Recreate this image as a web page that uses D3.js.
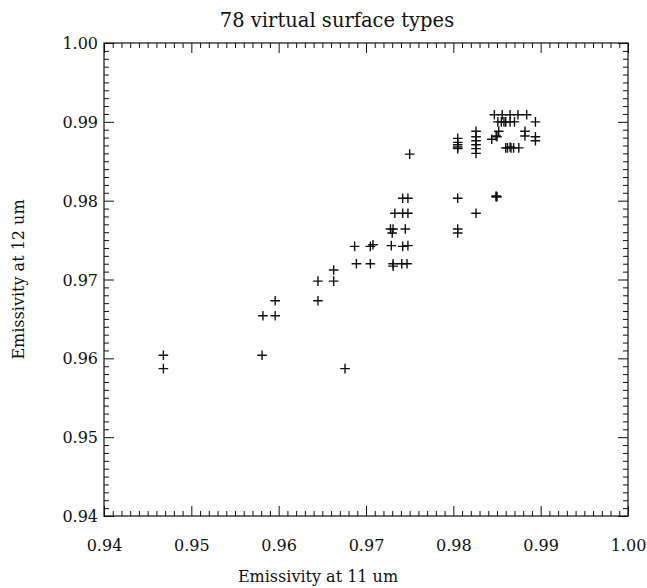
<!DOCTYPE html>
<html>
<head>
<meta charset="utf-8">
<script src="https://cdn.jsdelivr.net/npm/d3@7"></script>
<style>
  html, body { margin: 0; padding: 0; background: #fff; }
  svg { display: block; }
  text { font-family: "DejaVu Serif", "Liberation Serif", serif; fill: #111; }
</style>
</head>
<body>
<svg id="chart" width="647" height="588"></svg>
<script>
// Emissivity pairs for the surface types (11 um, 12 um)
const emis11 = [
  0.9468, 0.9468, 0.9581, 0.9676,
  0.9582, 0.9596, 0.9596, 0.9645, 0.9645, 0.9663, 0.9663,
  0.9689, 0.9705,
  0.9687, 0.9705, 0.9708, 0.9729, 0.9742, 0.9748,
  0.9731, 0.9731, 0.9741, 0.9747,
  0.9728, 0.9731, 0.9730, 0.9745, 0.9805, 0.9805,
  0.9733, 0.9742, 0.9748, 0.9826,
  0.9742, 0.9748, 0.9805,
  0.9750,
  0.9805, 0.9805, 0.9805, 0.9805, 0.9805,
  0.9826, 0.9826, 0.9826, 0.9826, 0.9826, 0.9826,
  0.9847, 0.9856, 0.9865, 0.9874, 0.9884,
  0.9851, 0.9855, 0.9860, 0.9865, 0.9870, 0.9894, 0.9858,
  0.9852, 0.9849, 0.9850, 0.9844, 0.9882, 0.9882, 0.9894, 0.9894,
  0.9860, 0.9862, 0.9866, 0.9869, 0.9875, 0.9865,
  0.9849, 0.9849, 0.9850
];
const emis12 = [
  0.9604, 0.9587, 0.9604, 0.9587,
  0.9654, 0.9654, 0.9673, 0.9673, 0.9698, 0.9698, 0.9712,
  0.9720, 0.9720,
  0.9742, 0.9742, 0.9744, 0.9743, 0.9742, 0.9743,
  0.9720, 0.9717, 0.9720, 0.9720,
  0.9764, 0.9764, 0.9759, 0.9764, 0.9764, 0.9759,
  0.9784, 0.9784, 0.9784, 0.9784,
  0.9803, 0.9803, 0.9803,
  0.9859,
  0.9879, 0.9874, 0.9871, 0.9868, 0.9866,
  0.9888, 0.9881, 0.9876, 0.9871, 0.9866, 0.9860,
  0.9909, 0.9909, 0.9909, 0.9909, 0.9909,
  0.9900, 0.9900, 0.9900, 0.9900, 0.9900, 0.9900, 0.9900,
  0.9888, 0.9882, 0.9881, 0.9878, 0.9888, 0.9882, 0.9881, 0.9876,
  0.9867, 0.9867, 0.9867, 0.9867, 0.9867, 0.9868,
  0.9805, 0.9806, 0.9805
];
const xTickLabels = ["0.94", "0.95", "0.96", "0.97", "0.98", "0.99", "1.00"];
const yTickLabels = ["0.94", "0.95", "0.96", "0.97", "0.98", "0.99", "1.00"];
const chartTitle = "78 virtual surface types";
const xTitle = "Emissivity at 11 um";
const yTitle = "Emissivity at 12 um";

const svg = d3.select("#chart");
const W = 647, H = 588;
const m = { left: 104, right: 19, top: 43, bottom: 72 };

svg.append("rect").attr("width", W).attr("height", H).attr("fill", "#fff");

const x = d3.scaleLinear().domain([0.94, 1.00]).range([m.left, W - m.right]);
const y = d3.scaleLinear().domain([0.94, 1.00]).range([H - m.bottom, m.top]);

const majors = xTickLabels.map(Number);
const minors = d3.range(0, 61).map(i => 0.94 + i * 0.001)
  .filter(v => Math.abs(Math.round(v * 100) - v * 100) > 1e-6);

const majLen = 10, minLen = 5;
const ink = "#111";

function drawAxis(axisGen, transform, ticks, len, labels) {
  const g = svg.append("g").attr("transform", transform)
    .call(axisGen.tickValues(ticks).tickSize(len).tickSizeOuter(0)
      .tickFormat(labels ? ((d, i) => labels[i]) : () => ""));
  g.select(".domain").remove();
  g.selectAll(".tick line").attr("stroke", ink).attr("stroke-width", 1);
  return g;
}

// bottom: labels + inward ticks (negative size points into the plot)
const gxb = drawAxis(d3.axisBottom(x), `translate(0,${y(0.94)})`, majors, -majLen, xTickLabels);
gxb.selectAll(".tick text").attr("y", 24).attr("font-size", 16);
drawAxis(d3.axisBottom(x), `translate(0,${y(0.94)})`, minors, -minLen, null);
// top
drawAxis(d3.axisTop(x), `translate(0,${y(1.00)})`, majors, -majLen, null);
drawAxis(d3.axisTop(x), `translate(0,${y(1.00)})`, minors, -minLen, null);
// left
const gyl = drawAxis(d3.axisLeft(y), `translate(${x(0.94)},0)`, majors, -majLen, yTickLabels);
gyl.selectAll(".tick text").attr("x", -6).attr("dy", "0.35em").attr("font-size", 16);
drawAxis(d3.axisLeft(y), `translate(${x(0.94)},0)`, minors, -minLen, null);
// right
drawAxis(d3.axisRight(y), `translate(${x(1.00)},0)`, majors, -majLen, null);
drawAxis(d3.axisRight(y), `translate(${x(1.00)},0)`, minors, -minLen, null);

// plot frame
svg.append("rect")
  .attr("x", x(0.94)).attr("y", y(1.00))
  .attr("width", x(1.00) - x(0.94)).attr("height", y(0.94) - y(1.00))
  .attr("fill", "none").attr("stroke", ink).attr("stroke-width", 1.2);

// plus-sign markers
const arm = 4.8;
const pts = emis11.map((v, i) => [v, emis12[i]]);
svg.append("g").selectAll("path").data(pts).join("path")
  .attr("d", d => {
    const px = x(d[0]), py = y(d[1]);
    return `M${px - arm},${py}H${px + arm}M${px},${py - arm}V${py + arm}`;
  })
  .attr("stroke", ink).attr("stroke-width", 1.4).attr("fill", "none");

// titles
svg.append("text").attr("x", 337).attr("y", 27)
  .attr("text-anchor", "middle").attr("font-size", 19.5).text(chartTitle);
svg.append("text").attr("x", 318).attr("y", 582)
  .attr("text-anchor", "middle").attr("font-size", 16).text(xTitle);
svg.append("text")
  .attr("transform", `translate(24,${(y(0.94) + y(1.00)) / 2}) rotate(-90)`)
  .attr("text-anchor", "middle").attr("font-size", 16).text(yTitle);
</script>
</body>
</html>
